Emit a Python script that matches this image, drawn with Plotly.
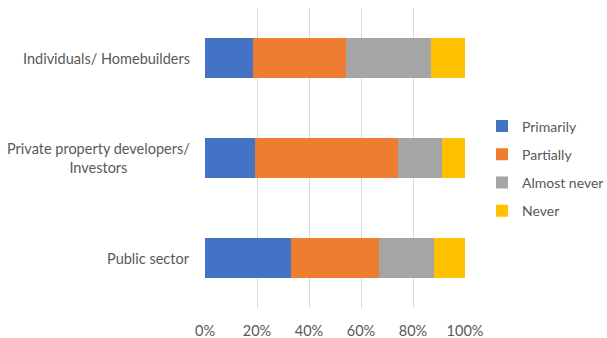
import plotly.graph_objects as go

# Survey shares (%) by actor group, top to bottom
groups = ["Individuals/ Homebuilders", "Private property developers/ Investors", "Public sector"]
group_labels = ["Individuals/ Homebuilders", "Private property developers/<br>Investors", "Public sector"]
series = ["Primarily", "Partially", "Almost never", "Never"]
primarily = [18.4, 19.3, 32.9]
partially = [35.7, 55.1, 34.0]
almost_never = [33.0, 16.6, 21.0]
never = [12.9, 9.0, 12.1]
colors = ["#4472C4", "#ED7D31", "#A5A5A5", "#FFC000"]
x_ticks = [0, 20, 40, 60, 80, 100]

values = [primarily, partially, almost_never, never]
font_family = "Lato, 'Open Sans', sans-serif"
text_color = "#595959"

fig = go.Figure()
for name, vals, col in zip(series, values, colors):
    fig.add_trace(go.Bar(
        y=groups, x=vals, name=name, orientation="h",
        marker=dict(color=col, line=dict(width=0)),
        legendgroup=name,
    ))

for g, lab in zip(groups, group_labels):
    fig.add_annotation(
        x=0, xref="paper", y=g, yref="y", text=lab, showarrow=False,
        xanchor="right", align="center", xshift=-13,
        font=dict(family=font_family, size=14.5, color=text_color),
    )

fig.update_layout(
    width=607, height=338,
    margin=dict(l=205, r=142, t=8, b=30, autoexpand=False),
    barmode="stack", bargap=0.6,
    plot_bgcolor="white", paper_bgcolor="white",
    font=dict(family=font_family, size=14.5, color=text_color),
    legend=dict(
        xref="container", x=482 / 607, xanchor="left",
        y=0.465, yanchor="middle",
        traceorder="grouped", tracegroupgap=7,
        font=dict(family=font_family, size=14, color=text_color),
        itemwidth=30,
    ),
    xaxis=dict(
        range=[0, 100], tickvals=x_ticks, ticktext=[f"{v}%" for v in x_ticks],
        showgrid=True, gridcolor="#D9D9D9", gridwidth=1, zeroline=False,
        showline=False, ticks="", ticklabelstandoff=12,
    ),
    yaxis=dict(
        categoryorder="array", categoryarray=groups[::-1],
        showticklabels=False, showgrid=False, zeroline=False, showline=False, ticks="",
    ),
)

fig.write_html("out.html")
